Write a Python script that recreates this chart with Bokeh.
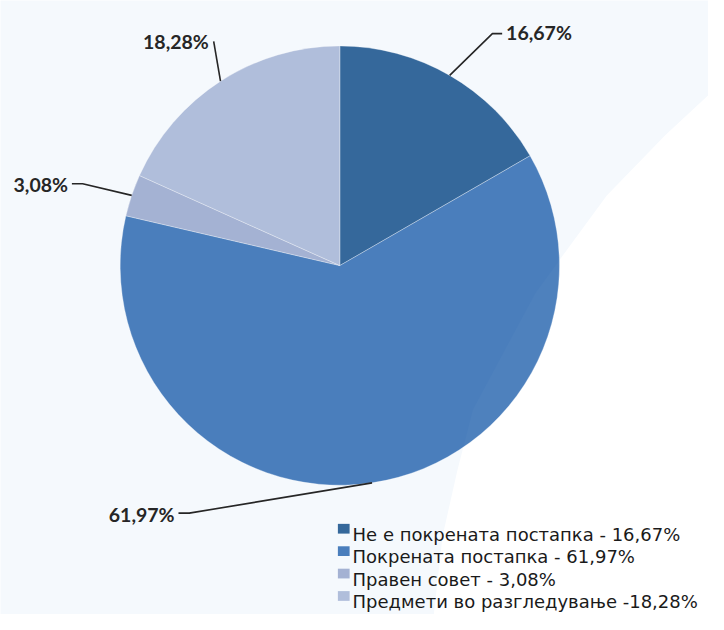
import numpy as np
from bokeh.plotting import figure
from bokeh.models import ColumnDataSource
from bokeh.core.properties import value
from bokeh.embed import file_html
from bokeh.resources import INLINE

# ---- data ----
categories = ["Не е покрената постапка", "Покрената постапка", "Правен совет", "Предмети во разгледување"]
shares = [16.67, 61.97, 3.08, 18.28]
pct_labels = ["16,67%", "61,97%", "3,08%", "18,28%"]
legend_labels = ["Не е покрената постапка - 16,67%", "Покрената постапка - 61,97%",
                 "Правен совет - 3,08%", "Предмети во разгледување -18,28%"]
colors = ["#35689B", "#4A7EBC", "#A4B2D3", "#B0BEDB"]

# ---- layout: reference-image pixel coords scaled into the figure ----
W, H = 708, 614
SX, SY = W / 724.0, H / 630.0
def X(xr):
    return xr * SX
def Y(yr):
    return H - yr * SY

p = figure(width=W, height=H, x_range=(0, W), y_range=(0, H),
           output_backend="svg", toolbar_location=None, min_border=0,
           background_fill_color="#F5F9FD", border_fill_color="#F5F9FD")
p.axis.visible = False
p.grid.visible = False
p.outline_line_color = None

# background swoosh (white region on the right)
curve_x = [724, 680, 620, 547, 483, 467, 452, 442]
curve_y = [97, 138, 200, 300, 420, 483, 550, 640]
sw_x = [X(v) for v in curve_x] + [X(740), X(740)]
sw_y = [Y(v) for v in curve_y] + [Y(640), Y(97)]
p.patch(sw_x, sw_y, fill_color="#FFFFFF", line_color=None)

# pie
cx, cy = X(347), Y(272)
R = 225 * (SX + SY) / 2
fr = np.array(shares) / np.sum(shares)
cum = np.concatenate([[0], np.cumsum(fr)])
starts = np.pi / 2 - 2 * np.pi * cum[1:]
ends = np.pi / 2 - 2 * np.pi * cum[:-1]
src = ColumnDataSource(dict(start=starts, end=ends, color=colors))
p.wedge(x=cx, y=cy, radius=R, start_angle="start", end_angle="end", fill_color="color",
        line_color="#FFFFFF", line_alpha=0.45, line_width=0.7, source=src)

# subtle swoosh overlay on pie
p.patch(sw_x, sw_y, fill_color="#FFFFFF", fill_alpha=0.025, line_color=None)

# leader lines + labels
mids = (starts + ends) / 2
elbows = [((503, 34), (513, 34)), ((193, 526), (182, 526)), ((84, 188), (73, 188)), ((218, 42), (218, 42))]
text_pos = [(517, 33, "left"), (178, 527, "right"), (69, 189, "right"), (213, 42, "right")]
for i in range(4):
    ex = cx + R * np.cos(mids[i])
    ey = cy + R * np.sin(mids[i])
    (e1, e2) = elbows[i]
    p.line([ex, X(e1[0]), X(e2[0])], [ey, Y(e1[1]), Y(e2[1])], line_color="#262626", line_width=1.6)
    tx, ty, al = text_pos[i]
    p.text(x=[X(tx)], y=[Y(ty)], text=[pct_labels[i]], text_font=value("Lato"),
           text_font_style="bold", text_font_size="19.5px", text_color="#262626",
           text_align=al, text_baseline="alphabetic")

# legend
base = [548, 571, 594, 617]
lx_text = 360
p.rect(x=[X(351)] * 4, y=[Y(b - 6) for b in base], width=12 * SX, height=10 * SY,
       fill_color=colors, line_color=None)
p.text(x=[X(lx_text)] * 4, y=[Y(b) for b in base], text=legend_labels,
       text_font=value("DejaVu Sans"), text_font_size="18px", text_color="#1A1A1A",
       text_align="left", text_baseline="alphabetic")

open("out.html", "w").write(file_html(p, INLINE))
